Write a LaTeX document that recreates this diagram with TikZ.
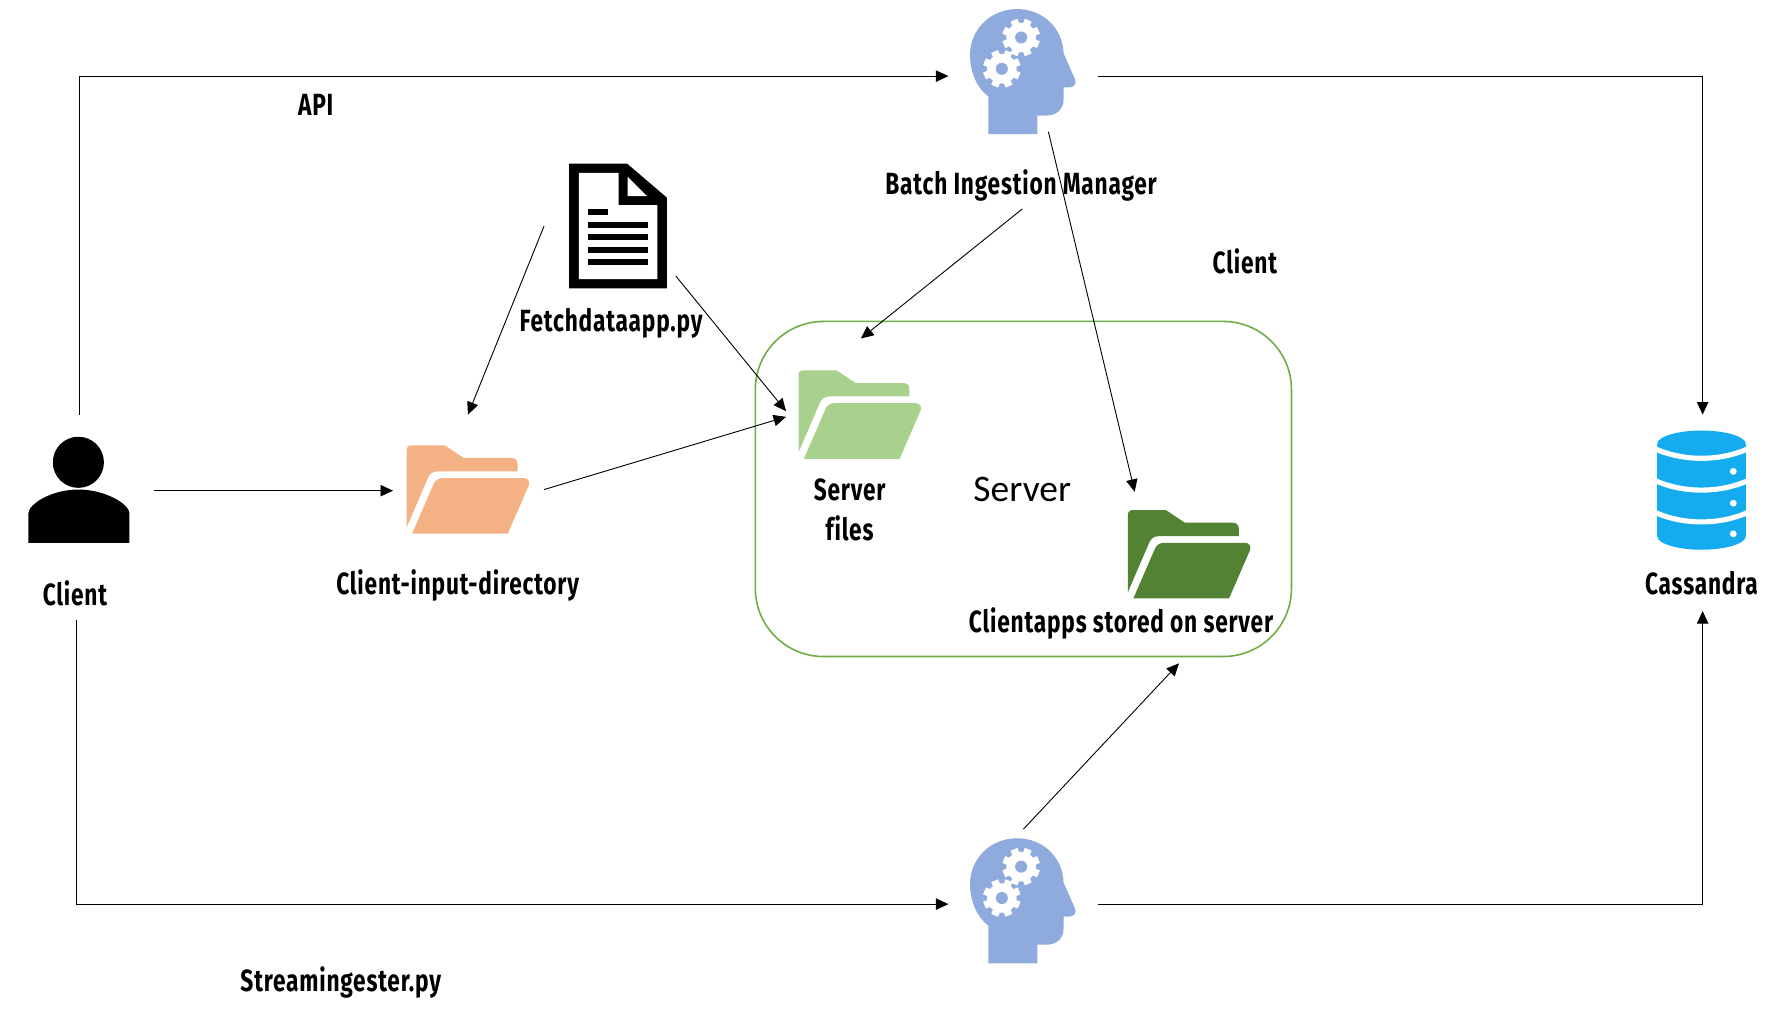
\documentclass[tikz,border=0pt]{standalone}
\usepackage{fontspec}
\setmainfont{Fira Sans}[FakeStretch=0.74,LetterSpace=2.6,Ligatures=NoCommon]
\newfontfamily\srvfont{Carlito}
\usetikzlibrary{arrows.meta}
\definecolor{headblue}{HTML}{8FAADC}
\definecolor{orangef}{HTML}{F4B183}
\definecolor{lightg}{HTML}{A9D18E}
\definecolor{darkg}{HTML}{548235}
\definecolor{dbblue}{HTML}{14ABEF}
\definecolor{boxg}{HTML}{70AD47}
\tikzset{
  conn/.style={draw=black,line width=0.8pt,-{Triangle[length=11pt,width=10pt]}},
  lbl/.style={font=\bfseries\fontsize{27}{32}\selectfont,inner sep=0pt,align=center,text=black},
  gearpic/.pic={
    \fill[white] (0,0) circle (13);
    \foreach \a in {0,45,...,315}{\draw[white,line width=6.5pt] (0,0) -- (\a+22.5:16.5);}
    \fill[headblue] (0,0) circle (5.3);
  },
  headpic/.pic={
    \begin{scope}[x=.292pt,y=-.292pt]
    \fill[headblue] (55,377) -- (55,263) .. controls (20,238) and (0,188) .. (0,138)
      .. controls (0,63) and (60,0) .. (142,0) .. controls (220,0) and (280,58) .. (282,133)
      -- (315,208) .. controls (325,228) and (310,236) .. (300,236) -- (282,236) -- (282,273)
      .. controls (282,303) and (260,321) .. (230,321) -- (203,321) -- (203,377) -- cycle;
    \end{scope}
    \pic at (45,25) {gearpic};
    \pic at (28,52.6) {gearpic};
  },
  folder/.pic={
    \begin{scope}[x=.318pt,y=-.295pt]
    \fill[#1] (0,245) -- (0,15) .. controls (0,5) and (5,0) .. (15,0) -- (105,0) -- (158,38) -- (290,38)
      .. controls (300,38) and (307,45) .. (307,55) -- (307,78) -- (85,78)
      .. controls (70,78) and (62,88) .. (58,100) -- cycle;
    \fill[#1] (15,264) -- (75,115) .. controls (80,103) and (90,98) .. (100,98) -- (325,98)
      .. controls (335,98) and (342,108) .. (338,120) -- (280,264) -- cycle;
    \end{scope}
  },
}
\begin{document}
\begin{tikzpicture}[x=1pt,y=-1pt]
\useasboundingbox (0,0) rectangle (1568,897.1);
\fill[white] (0,0) rectangle (1568,897.1);

% server box
\node[draw=boxg,line width=1.4pt,rounded corners=60pt,minimum width=472pt,minimum height=295pt,inner sep=0pt] (srv) at (901,430.5) {};

% icons
\pic at (854,8) {headpic};
\pic at (854,738) {headpic};
\pic at (358,392) {folder=orangef};
\pic at (703,326) {folder=lightg};
\pic at (993,449) {folder=darkg};

% person
\fill[black] (69,407) circle (22.5);
\fill[black] (25,478) -- (25,452) .. controls (25,444) and (45,431) .. (69,431)
  .. controls (93,431) and (114,444) .. (114,452) -- (114,478) -- cycle;

% document
\begin{scope}[shift={(501,144)},x=.2966pt,y=-.2933pt]
  \fill[black] (0,0) -- (172,0) -- (290,102) -- (290,375) -- (0,375) -- cycle;
  \fill[white] (29,28) -- (147,28) -- (147,125) -- (262,125) -- (262,347) -- (29,347) -- cycle;
  \fill[white] (174,40) -- (232,98) -- (174,98) -- cycle;
  \fill[black] (57,136) rectangle (117,154);
  \foreach \yy in {174,212,250,287}{\fill[black] (57,\yy) rectangle (235,\yy+18);}
\end{scope}

% database
\fill[dbblue] (1459,391) .. controls (1459,384) and (1478,379) .. (1498,379)
  .. controls (1518,379) and (1537,384) .. (1537,391) -- (1537,472)
  .. controls (1537,479) and (1518,484) .. (1498,484)
  .. controls (1478,484) and (1459,479) .. (1459,472) -- cycle;
\foreach \s in {395,423,451}{
  \draw[white,line width=4.5pt] (1457,\s) .. controls (1470,\s+6) and (1485,\s+8.5) .. (1498,\s+8.5)
    .. controls (1511,\s+8.5) and (1526,\s+6) .. (1539,\s);
}
\foreach \s in {415,443,470}{\fill[white] (1526,\s) circle (3);}

% labels
\node[lbl] (api) at (278,92) {API};
\node[lbl] (fetch) at (538,285) {Fetchdataapp.py};
\node[lbl] (bim) at (899,163) {Batch Ingestion Manager};
\node[lbl] (cl2) at (1096,230) {Client};
\node[lbl] (cl1) at (66,522) {Client};
\node[lbl] (cid) at (403,515) {Client-input-directory};
\node[lbl] (sf1) at (748,431) {Server};
\node[lbl] (sf2) at (748,465) {files};
\node[inner sep=0pt,font=\srvfont\fontsize{33}{36}\selectfont] (srvlbl) at (900,431) {Server};
\node[lbl] (capps) at (987,549) {Clientapps stored on server};
\node[lbl] (cass) at (1498,513) {Cassandra};
\node[lbl] (sing) at (300,865) {Streamingester.py};

% connector ends
\coordinate (a1) at (70,365); \coordinate (a1c) at (70,67); \coordinate (a1e) at (835,67);
\coordinate (a2) at (967,67); \coordinate (a2c) at (1499,67); \coordinate (a2e) at (1499,365);
\coordinate (a3) at (67,546); \coordinate (a3c) at (67,796); \coordinate (a3e) at (835,796);
\coordinate (a4) at (967,796); \coordinate (a4c) at (1499,796); \coordinate (a4e) at (1499,538);
\coordinate (b1) at (136,432); \coordinate (b1e) at (346,432);
\coordinate (c1) at (479,199); \coordinate (c1e) at (412,365);
\coordinate (c2) at (595,243); \coordinate (c2e) at (692,362);
\coordinate (c3) at (479,431); \coordinate (c3e) at (692,367);
\coordinate (d1) at (900,184); \coordinate (d1e) at (758,298);
\coordinate (d2) at (923,116); \coordinate (d2e) at (999,433);
\coordinate (e1) at (901,730); \coordinate (e1e) at (1038,584);

\draw[conn] (a1) -- (a1c) -- (a1e);
\draw[conn] (a2) -- (a2c) -- (a2e);
\draw[conn] (a3) -- (a3c) -- (a3e);
\draw[conn] (a4) -- (a4c) -- (a4e);
\draw[conn] (b1) -- (b1e);
\draw[conn] (c1) -- (c1e);
\draw[conn] (c2) -- (c2e);
\draw[conn] (c3) -- (c3e);
\draw[conn] (d1) -- (d1e);
\draw[conn] (d2) -- (d2e);
\draw[conn] (e1) -- (e1e);
\end{tikzpicture}
\end{document}
